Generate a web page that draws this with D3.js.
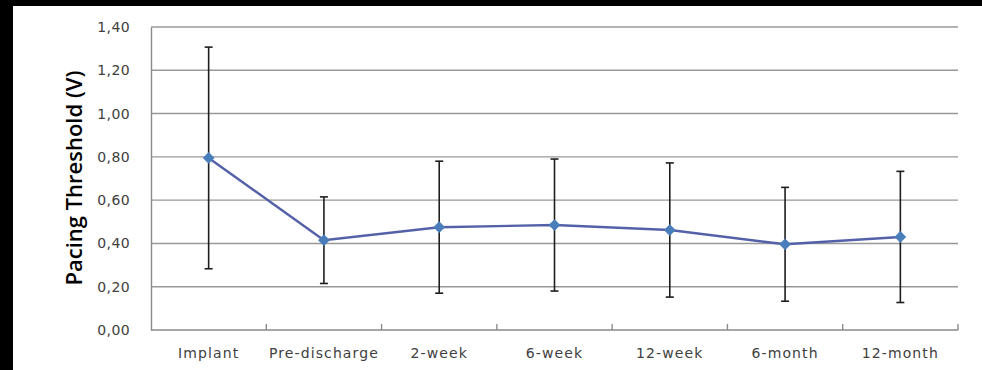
<!DOCTYPE html>
<html>
<head>
<meta charset="utf-8">
<script src="https://cdn.jsdelivr.net/npm/d3@7"></script>
<style>
  html, body { margin: 0; padding: 0; background: #000; }
  svg { display: block; }
</style>
</head>
<body>
<svg id="chart" width="982" height="370"></svg>
<script>
// Follow-up visits and mean pacing threshold (V) with ± standard deviation
const categories = ["Implant", "Pre-discharge", "2-week", "6-week", "12-week", "6-month", "12-month"];
const meanValues = [0.795, 0.415, 0.475, 0.485, 0.462, 0.396, 0.430];
const sdValues = [0.512, 0.200, 0.305, 0.305, 0.310, 0.263, 0.303];
const yTicks = [0, 0.2, 0.4, 0.6, 0.8, 1.0, 1.2, 1.4];

const svg = d3.select("#chart");
const W = 982, H = 370;

// white canvas inside the black frame
svg.append("rect").attr("x", 13).attr("y", 6).attr("width", W - 13).attr("height", H - 6).attr("fill", "#fff");

const plot = { left: 151, right: 958, top: 27, bottom: 330 };

const x = d3.scaleBand().domain(categories).range([plot.left, plot.right]).padding(0);
const y = d3.scaleLinear().domain([0, 1.4]).range([plot.bottom, plot.top]);

const fmt = v => d3.format(".2f")(v).replace(".", ",");
const labelFont = "'DejaVu Sans', sans-serif";

// horizontal gridlines
svg.append("g")
  .selectAll("line")
  .data(yTicks.filter(t => t > 0))
  .join("line")
  .attr("x1", plot.left).attr("x2", plot.right)
  .attr("y1", d => y(d)).attr("y2", d => y(d))
  .attr("stroke", "#989898").attr("stroke-width", 1.4);

// y axis
const yAxis = svg.append("g")
  .attr("transform", `translate(${plot.left},0)`)
  .call(d3.axisLeft(y).tickValues(yTicks).tickFormat(fmt).tickSize(0).tickPadding(21));
yAxis.select(".domain").attr("stroke", "#8a8a8a").attr("stroke-width", 1.4);
yAxis.selectAll("text")
  .attr("fill", "#404040")
  .style("font-family", labelFont)
  .style("font-size", "14px")
  .style("letter-spacing", "0.4px");

// x axis: ticks between categories, pointing into the plot
const boundaries = categories.map(c => x(c) + x.bandwidth()).slice(0, -1).concat([plot.right]);
const xg = svg.append("g");
xg.append("line")
  .attr("x1", plot.left).attr("x2", plot.right)
  .attr("y1", plot.bottom).attr("y2", plot.bottom)
  .attr("stroke", "#8a8a8a").attr("stroke-width", 1.4);
xg.selectAll("line.tick")
  .data(boundaries)
  .join("line")
  .attr("class", "tick")
  .attr("x1", d => d).attr("x2", d => d)
  .attr("y1", plot.bottom).attr("y2", plot.bottom - 6)
  .attr("stroke", "#8a8a8a").attr("stroke-width", 1.4);
xg.selectAll("text")
  .data(categories)
  .join("text")
  .attr("x", d => x(d) + x.bandwidth() / 2)
  .attr("y", 358)
  .attr("text-anchor", "middle")
  .attr("fill", "#404040")
  .style("font-family", labelFont)
  .style("font-size", "14px")
  .style("letter-spacing", "1.1px")
  .text(d => d);

// y axis title
svg.append("text")
  .attr("transform", `translate(82,178) rotate(-90)`)
  .attr("text-anchor", "middle")
  .attr("fill", "#000")
  .style("font-family", "'Open Sans', sans-serif")
  .style("font-weight", "600")
  .style("font-size", "22px")
  .text("Pacing Threshold (V)");

const data = categories.map((c, i) => ({ c, m: meanValues[i], sd: sdValues[i] }));
const cx = d => x(d.c) + x.bandwidth() / 2;

// error bars
const eb = svg.append("g").attr("stroke", "#1e1e1e").attr("stroke-width", 1.6);
eb.selectAll("line.v").data(data).join("line").attr("class", "v")
  .attr("x1", cx).attr("x2", cx)
  .attr("y1", d => y(d.m + d.sd)).attr("y2", d => y(d.m - d.sd));
eb.selectAll("line.t").data(data).join("line").attr("class", "t")
  .attr("x1", d => cx(d) - 4).attr("x2", d => cx(d) + 4)
  .attr("y1", d => y(d.m + d.sd)).attr("y2", d => y(d.m + d.sd));
eb.selectAll("line.b").data(data).join("line").attr("class", "b")
  .attr("x1", d => cx(d) - 4).attr("x2", d => cx(d) + 4)
  .attr("y1", d => y(d.m - d.sd)).attr("y2", d => y(d.m - d.sd));

// mean line
svg.append("path")
  .datum(data)
  .attr("fill", "none")
  .attr("stroke", "#5461a8")
  .attr("stroke-width", 2.4)
  .attr("d", d3.line().x(cx).y(d => y(d.m)));

// diamond markers
svg.append("g")
  .selectAll("path")
  .data(data)
  .join("path")
  .attr("transform", d => `translate(${cx(d)},${y(d.m)})`)
  .attr("d", d3.symbol().type(d3.symbolDiamond2).size(88))
  .attr("fill", "#4a7ebb");
</script>
</body>
</html>
